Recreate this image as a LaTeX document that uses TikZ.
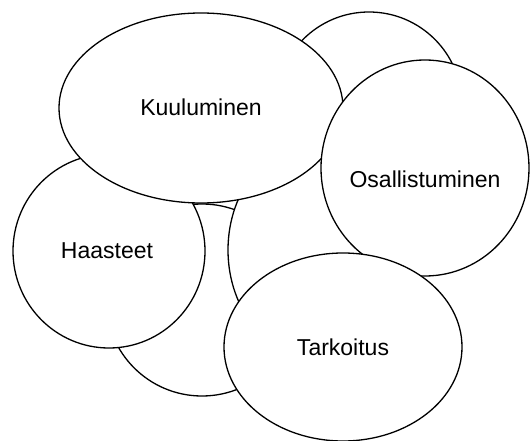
\documentclass[tikz,border=0pt]{standalone}
\usepackage{fontspec}
\setmainfont{Liberation Sans}
\begin{document}
\begin{tikzpicture}[x=1pt,y=-1pt,
  blob/.style={draw=black,fill=white,line width=1.3pt},
  lbl/.style={font=\fontsize{23}{27}\selectfont,inner sep=0pt}]
\useasboundingbox (0,0) rectangle (531,441);
% background circles
\draw[blob] (369,105) ellipse [x radius=93, y radius=93];
\draw[blob] (202,300) ellipse [x radius=96, y radius=96];
\draw[blob] (320,250) ellipse [x radius=92, y radius=110];
% Haasteet
\draw[blob] (109,251) ellipse [x radius=96, y radius=97];
\node[lbl] (haasteet) at (107,251) {Haasteet};
% Kuuluminen
\draw[blob] (201,108) ellipse [x radius=142, y radius=95];
\node[lbl] (kuuluminen) at (201,107) {Kuuluminen};
% Osallistuminen
\draw[blob] (425,168) ellipse [x radius=104, y radius=108];
\node[lbl] (osallistuminen) at (425,179) {Osallistuminen};
% Tarkoitus
\draw[blob] (343,347) ellipse [x radius=119, y radius=94];
\node[lbl] (tarkoitus) at (343,347) {Tarkoitus};
\end{tikzpicture}
\end{document}
